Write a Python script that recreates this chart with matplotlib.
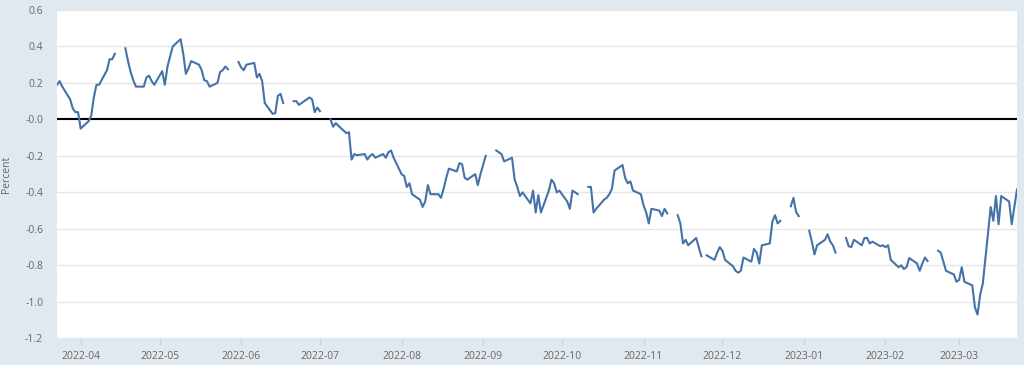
import numpy as np
import pandas as pd
import matplotlib
matplotlib.use("Agg")
from matplotlib import pyplot as plt
import matplotlib.dates as mdates
from matplotlib.ticker import FormatStrFormatter

plt.rcParams['font.family'] = ['Open Sans', 'DejaVu Sans']

nan = np.nan

# daily spread (percent), one list per month, business days only; nan = market holiday
mar_2022 = [0.19, 0.21, 0.18, 0.11, 0.06, 0.04, 0.04]
apr_2022 = [-0.05, -0.01, 0.02, 0.12, 0.19, 0.19, 0.27, 0.33, 0.33, 0.36, nan,
            0.39, 0.32, 0.26, 0.215, 0.18, 0.18, 0.23, 0.24, 0.21, 0.19]
may_2022 = [0.265, 0.19, 0.29, 0.345, 0.40, 0.44, 0.36, 0.25, 0.28, 0.32, 0.30,
            0.27, 0.215, 0.21, 0.18, 0.20, 0.26, 0.27, 0.29, 0.275, nan, 0.315]
jun_2022 = [0.285, 0.27, 0.30, 0.31, 0.23, 0.25, 0.21, 0.09, 0.03, 0.035, 0.13,
            0.14, 0.09, nan, 0.10, 0.10, 0.08, 0.09, 0.12, 0.11, 0.04, 0.065]
jul_2022 = [0.045, nan, 0.00, -0.04, -0.02, -0.035, -0.075, -0.07, -0.22, -0.19,
            -0.196, -0.19, -0.22, -0.20, -0.19, -0.21, -0.19, -0.21, -0.18, -0.17, -0.21]
aug_2022 = [-0.30, -0.31, -0.37, -0.35, -0.41, -0.44, -0.48, -0.45, -0.36, -0.41,
            -0.41, -0.43, -0.38, -0.32, -0.27, -0.285, -0.24, -0.245, -0.32, -0.33,
            -0.30, -0.36, -0.30]
sep_2022 = [-0.25, -0.20, nan, -0.17, -0.18, -0.19, -0.23, -0.21, -0.33, -0.37,
            -0.42, -0.40, -0.46, -0.39, -0.51, -0.415, -0.51, -0.39, -0.33, -0.35,
            -0.40, -0.39]
oct_2022 = [-0.45, -0.49, -0.39, -0.40, -0.41, nan, -0.37, -0.37, -0.51, -0.49,
            -0.44, -0.43, -0.41, -0.38, -0.28, -0.25, -0.32, -0.35, -0.34, -0.39, -0.41]
nov_2022 = [-0.47, -0.51, -0.57, -0.49, -0.50, -0.53, -0.49, -0.515, nan, -0.525,
            -0.57, -0.68, -0.66, -0.69, -0.65, -0.70, -0.75, nan, -0.745, -0.77,
            -0.73, -0.70]
dec_2022 = [-0.72, -0.77, -0.805, -0.83, -0.84, -0.83, -0.757, -0.78, -0.71, -0.73,
            -0.79, -0.69, -0.68, -0.56, -0.525, -0.57, -0.556, nan, -0.476, -0.43,
            -0.507, -0.53]
jan_2023 = [nan, -0.61, -0.67, -0.74, -0.69, -0.66, -0.63, -0.67, -0.69, -0.73,
            nan, -0.65, -0.695, -0.70, -0.66, -0.69, -0.65, -0.65, -0.68, -0.67,
            -0.695, -0.69]
feb_2023 = [-0.70, -0.69, -0.77, -0.81, -0.80, -0.82, -0.81, -0.76, -0.79, -0.83,
            -0.79, -0.757, -0.776, nan, -0.72, -0.73, -0.78, -0.83, -0.85, -0.89]
mar_2023 = [-0.88, -0.81, -0.89, -0.91, -1.03, -1.07, -0.96, -0.90, -0.48, -0.556,
            -0.42, -0.575, -0.42, -0.45, -0.575, -0.48, -0.384]

start_date = "2022-03-23"
end_date = "2023-03-23"

values = (mar_2022 + apr_2022 + may_2022 + jun_2022 + jul_2022 + aug_2022 + sep_2022
          + oct_2022 + nov_2022 + dec_2022 + jan_2023 + feb_2023 + mar_2023)
dates = pd.bdate_range(start_date, end_date)
spread = pd.Series(values, index=dates)

bg = '#e1e9f0'
fig = plt.figure(figsize=(10.24, 3.65), dpi=100, facecolor=bg)
ax = fig.add_axes([57 / 1024, 26.7 / 365, 960 / 1024, 328.3 / 365])
ax.set_facecolor('white')

ax.plot(spread.index, spread.values, color='#4572a7', lw=1.5, zorder=3)
ax.axhline(0, color='black', lw=1.5, zorder=2)

ax.set_xlim(pd.Timestamp(start_date), pd.Timestamp(end_date))
ax.set_ylim(-1.2, 0.6)
ax.set_yticks(np.arange(-1.2, 0.61, 0.2))
ax.yaxis.set_major_formatter(FormatStrFormatter('%.1f'))
ax.grid(axis='y', color='#e6e6e6', lw=1, zorder=1)
ax.set_axisbelow(True)

ax.xaxis.set_major_locator(mdates.MonthLocator())
ax.xaxis.set_major_formatter(mdates.DateFormatter('%Y-%m'))

for s in ax.spines.values():
    s.set_visible(False)

ax.tick_params(axis='x', length=5, width=1, color='#ccd6eb', labelsize=7.5,
               labelcolor='#666666', pad=4)
ax.tick_params(axis='y', length=0, labelsize=7.5, labelcolor='#666666', pad=10)
ax.set_ylabel('Percent', fontsize=7.5, color='#666666')
ax.yaxis.set_label_coords(-0.047, 0.5)

fig.savefig('out.png', dpi=100, facecolor=bg)
